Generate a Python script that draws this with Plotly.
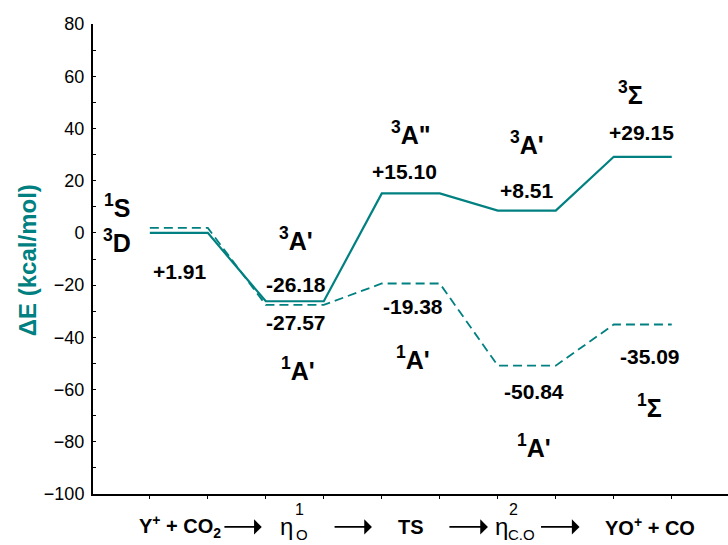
import plotly.graph_objects as go

# Relative energies (kcal/mol) for each stationary point along the path
stages = ["Y+ + CO2", "eta1_O", "TS", "eta2_CO", "YO+ + CO"]
triplet = [0.0, -26.18, 15.10, 8.51, 29.15]
singlet = [1.91, -27.57, -19.38, -50.84, -35.09]

TEAL = "#008080"
FONT = "Liberation Sans, Arial, sans-serif"


def level_path(values):
    """Each level is a short horizontal bar spanning two x units."""
    xs, ys = [], []
    for i, v in enumerate(values):
        xs += [2 * i, 2 * i + 1]
        ys += [v, v]
    return xs, ys


fig = go.Figure()

xs, ys = level_path(triplet)
fig.add_trace(go.Scatter(x=xs, y=ys, mode="lines",
                         line=dict(color=TEAL, width=2.2), showlegend=False,
                         cliponaxis=False))
xs, ys = level_path(singlet)
fig.add_trace(go.Scatter(x=xs, y=ys, mode="lines",
                         line=dict(color=TEAL, width=1.8, dash="9px,5px"),
                         showlegend=False, cliponaxis=False))

annotations = []


def label(x, y, text, size=21, bold=True, yref="y"):
    if bold:
        text = "<b>" + text + "</b>"
    annotations.append(dict(x=x, y=y, xref="x", yref=yref, text=text,
                            showarrow=False, xanchor="center", yanchor="middle",
                            font=dict(family=FONT, size=size, color="black")))


def fmt(v):
    return ("+" if v > 0 else "") + f"{v:.2f}"


STATE = 25

# State symbols and energy values
label(-0.57, 10.3, "<sup>1</sup>S", STATE)
label(-0.57, -3.1, "<sup>3</sup>D", STATE)
label(0.52, -14.9, fmt(singlet[0]))

label(2.52, -2.3, "<sup>3</sup>A'", STATE)
label(2.52, -19.9, fmt(triplet[1]))
label(2.52, -34.5, fmt(singlet[1]))
label(2.55, -52.1, "<sup>1</sup>A'", STATE)

label(4.5, 38.3, "<sup>3</sup>A\"", STATE)
label(4.4, 23.4, fmt(triplet[2]))
label(4.53, -28.0, fmt(singlet[2]))
label(4.53, -47.9, "<sup>1</sup>A'", STATE)

label(6.5, 34.5, "<sup>3</sup>A'", STATE)
label(6.5, 16.1, fmt(triplet[3]))
label(6.62, -60.9, fmt(singlet[3]))
label(6.62, -81.6, "<sup>1</sup>A'", STATE)

label(8.29, 53.6, "<sup>3</sup>Σ", STATE)
label(8.48, 38.3, fmt(triplet[4]))
label(8.62, -47.5, fmt(singlet[4]))
label(8.62, -66.3, "<sup>1</sup>Σ", STATE)

# Reaction scheme under the axis (paper coordinates, below the plot area)
ROW, UP, DOWN = -0.070, -0.034, -0.087
label(0.52, ROW, "Y<sup>+</sup> + CO<sub>2</sub>", 20, yref="paper")
label(2.36, ROW, "η", 24, bold=False, yref="paper")
label(2.58, UP, "1", 16, bold=False, yref="paper")
label(2.63, DOWN, "O", 15, bold=False, yref="paper")
label(4.5, ROW, "TS", 20, yref="paper")
label(6.06, ROW, "η", 24, bold=False, yref="paper")
label(6.27, UP, "2", 16, bold=False, yref="paper")
label(6.41, DOWN, "C.O", 15, bold=False, yref="paper")
label(8.62, ROW, "YO<sup>+</sup> + CO", 20, yref="paper")

for x0, x1 in [(1.26, 1.93), (3.16, 3.83), (5.14, 5.83), (6.72, 7.41)]:
    annotations.append(dict(x=x1, y=ROW, ax=x0, ay=0, xref="x", yref="paper",
                            axref="x", ayref="pixel", text="", showarrow=True,
                            arrowhead=1, arrowsize=1.6, arrowwidth=1.6,
                            arrowcolor="black"))

# Vertical axis title
annotations.append(dict(x=-0.102, y=0.498, xref="paper", yref="paper",
                        text="<b>ΔE (kcal/mol)</b>", textangle=-90,
                        showarrow=False, xanchor="center", yanchor="middle",
                        font=dict(family=FONT, size=24, color=TEAL)))

fig.update_layout(
    width=728, height=545,
    margin=dict(l=93, r=0, t=24, b=51),
    paper_bgcolor="white", plot_bgcolor="white",
    annotations=annotations,
    font=dict(family=FONT, color="black"),
    xaxis=dict(range=[-0.98, 9.97], showgrid=False, zeroline=False,
               showline=True, linecolor="black", linewidth=2,
               tickmode="linear", tick0=0, dtick=1, ticks="outside",
               ticklen=3, tickcolor="black", showticklabels=False),
    yaxis=dict(range=[-100, 80], showgrid=False, zeroline=False,
               showline=True, linecolor="black", linewidth=2,
               tickmode="linear", tick0=-100, dtick=20, ticks="inside",
               ticklen=3, tickcolor="black", ticklabelstandoff=3,
               minor=dict(dtick=10, ticks="inside", ticklen=3,
                          tickcolor="black", showgrid=False),
               tickfont=dict(family=FONT, size=18, color="black")),
)

fig.write_html("out.html")
